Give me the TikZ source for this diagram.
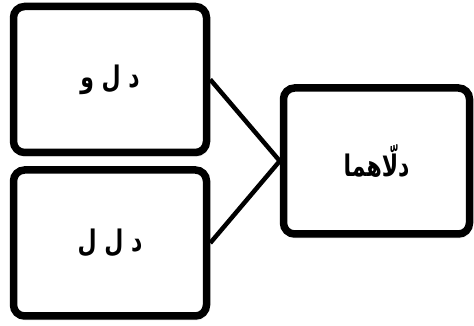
\documentclass[tikz,border=0pt]{standalone}
\usepackage{fontspec}
\usepackage{graphicx}
\newfontfamily\arabicfont[Script=Arabic]{DejaVu Sans}
\TeXXeTstate=1
\usetikzlibrary{shadows.blur}
% tall bold Arabic label
\newcommand{\arlabel}[1]{\scalebox{1}[1.35]{\arabicfont\bfseries\fontsize{22}{26}\selectfont\beginR #1\endR}}
\begin{document}
\begin{tikzpicture}[x=1pt,y=1pt,
  box/.style={draw=black, line width=7.5pt, rounded corners=11pt, fill=white,
    minimum width=193pt, minimum height=146pt, inner sep=0pt,
    blur shadow={shadow xshift=1pt, shadow yshift=-3pt, shadow blur steps=6, shadow opacity=45}},
  link/.style={line width=4.5pt}]
\useasboundingbox (0,0) rectangle (474,326);
\node[box] (a) at (110,246.5) {\arlabel{د ل و}};
\node[box] (b) at (110,83) {\arlabel{د ل ل}};
\node[box, minimum width=186pt] (c) at (376.5,165) {\arlabel{دلّاهما}};
\draw[link] (a.east) -- (c.west);
\draw[link] (b.east) -- (c.west);
\end{tikzpicture}
\end{document}
